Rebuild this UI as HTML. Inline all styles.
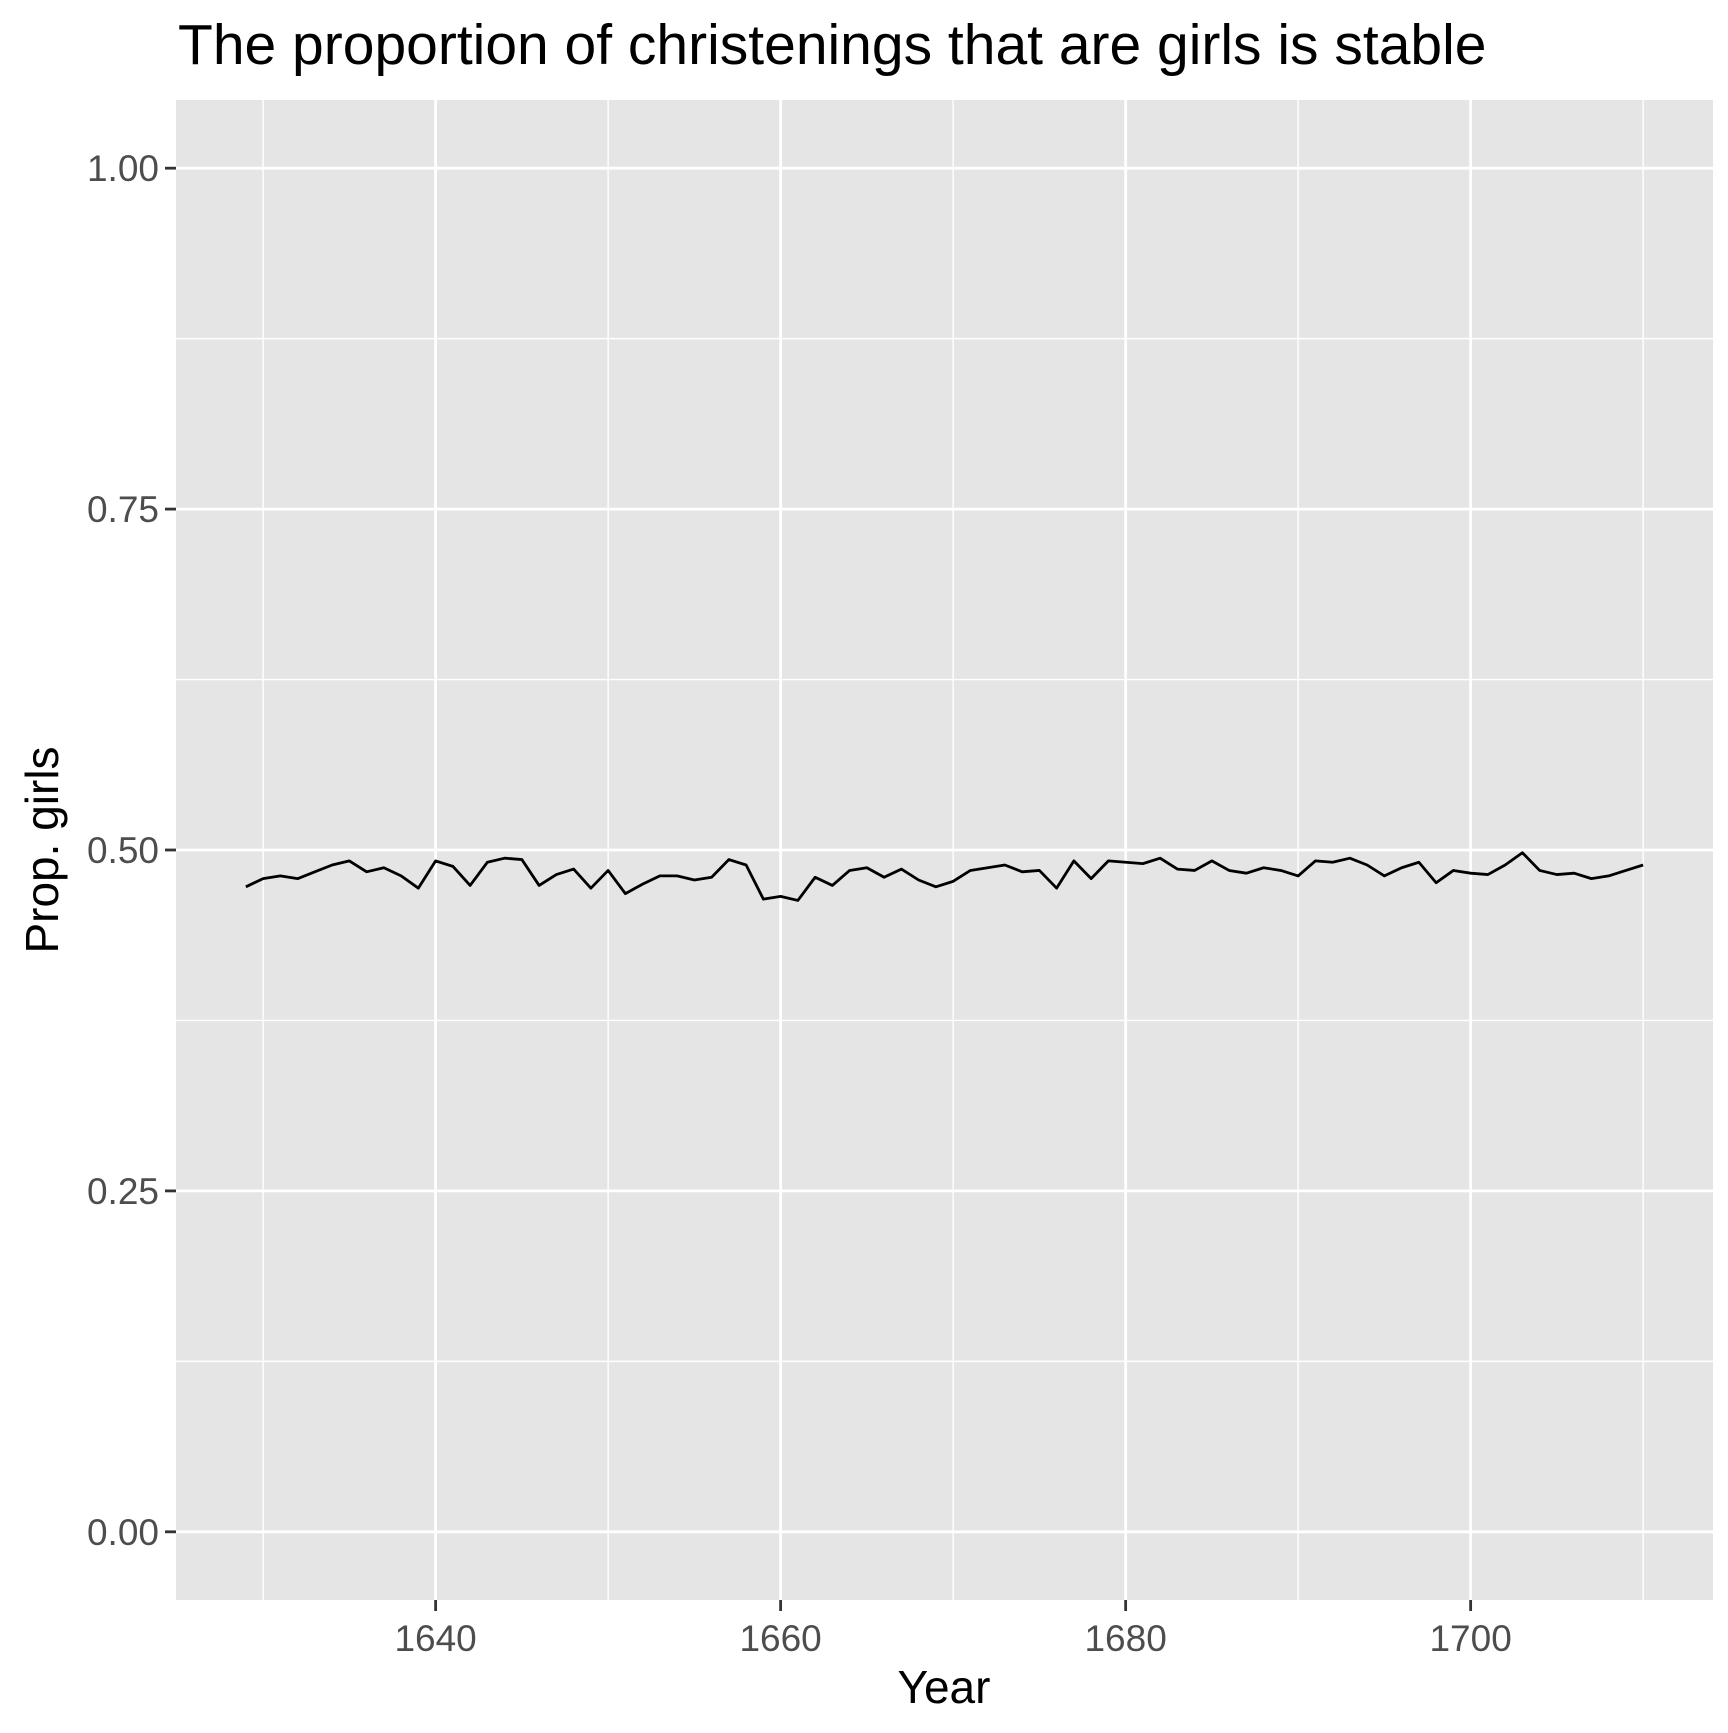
<!DOCTYPE html>
<html><head><meta charset="utf-8"><style>
html,body{margin:0;padding:0;background:#fff;}
svg text{font-family:"Liberation Sans",Arial,sans-serif;}
</style></head><body>
<svg id="chart" width="1728" height="1728" viewBox="0 0 1728 1728" xmlns="http://www.w3.org/2000/svg">
<text x="178" y="64" font-size="57" fill="#000">The proportion of christenings that are girls is stable</text>
<rect x="176" y="100" width="1537" height="1500" fill="#e5e5e5"/>
<g id="grid"></g>
<g id="axes"></g>
<path id="line" fill="none" stroke="#000" stroke-width="2.8" stroke-linejoin="round"/>
<text x="944" y="1703" font-size="46" text-anchor="middle" fill="#000">Year</text>
<text transform="translate(58,850) rotate(-90)" font-size="46" text-anchor="middle" fill="#000">Prop. girls</text>
</svg>
<script>
const years = [];
for (let y = 1629; y <= 1710; y++) years.push(y);
const propGirls = [0.473,0.479,0.481,0.479,0.484,0.489,0.492,0.484,0.487,0.481,0.472,
0.492,0.488,0.474,0.491,0.494,0.493,0.474,0.482,0.486,0.472,
0.485,0.468,0.475,0.481,0.481,0.478,0.480,0.493,0.489,0.464,
0.466,0.463,0.480,0.474,0.485,0.487,0.480,0.486,0.478,0.473,
0.477,0.485,0.487,0.489,0.484,0.485,0.472,0.492,0.479,0.492,
0.491,0.490,0.494,0.486,0.485,0.492,0.485,0.483,0.487,0.485,
0.481,0.492,0.491,0.494,0.489,0.481,0.487,0.491,0.476,0.485,
0.483,0.482,0.489,0.498,0.485,0.482,0.483,0.479,0.481,0.485,0.489];
const xTicks = [1640,1660,1680,1700];
const xMinor = [1630,1650,1670,1690,1710];
const yTicks = [0,0.25,0.5,0.75,1];
const yTickLabels = ["0.00","0.25","0.50","0.75","1.00"];
const yMinor = [0.125,0.375,0.625,0.875];

const NS = "http://www.w3.org/2000/svg";
const PL = 176, PR = 1713, PT = 100, PB = 1600;
const xMin = 1629 - 0.05*81, xMax = 1710 + 0.05*81;
const yMin = -0.05, yMax = 1.05;
const sx = v => PL + (v - xMin) / (xMax - xMin) * (PR - PL);
const sy = v => PB - (v - yMin) / (yMax - yMin) * (PB - PT);

function mk(tag, attrs, parent) {
  const e = document.createElementNS(NS, tag);
  for (const k in attrs) e.setAttribute(k, attrs[k]);
  parent.appendChild(e);
  return e;
}
const grid = document.getElementById('grid');
const axes = document.getElementById('axes');

yMinor.forEach(v => {
  const l = mk('line', {x1: PL, x2: PR, y1: sy(v), y2: sy(v), stroke: '#fff', 'stroke-width': 1.4}, grid);
  
  
});
xMinor.forEach(v => {
  const l = mk('line', {x1: sx(v), x2: sx(v), y1: PT, y2: PB, stroke: '#fff', 'stroke-width': 1.4}, grid);
  
  
});
yTicks.forEach((v, i) => {
  const l = mk('line', {x1: PL, x2: PR, y1: sy(v), y2: sy(v), stroke: '#fff', 'stroke-width': 2.8}, grid);
  
  
  const t = mk('line', {x1: PL - 11, x2: PL, y1: sy(v), y2: sy(v), stroke: '#333', 'stroke-width': 2.8}, axes);
  
  
  const tx = mk('text', {x: PL - 17, y: sy(v) + 13, 'font-size': 37, 'text-anchor': 'end', fill: '#4d4d4d'}, axes);
  tx.textContent = yTickLabels[i];
  
  
});
xTicks.forEach(v => {
  const l = mk('line', {x1: sx(v), x2: sx(v), y1: PT, y2: PB, stroke: '#fff', 'stroke-width': 2.8}, grid);
  
  
  const t = mk('line', {x1: sx(v), x2: sx(v), y1: PB, y2: PB + 11, stroke: '#333', 'stroke-width': 2.8}, axes);
  
  
  const tx = mk('text', {x: sx(v), y: PB + 51, 'font-size': 37, 'text-anchor': 'middle', fill: '#4d4d4d'}, axes);
  tx.textContent = String(v);
  
  
});
document.getElementById('line').setAttribute('d',
  years.map((y, i) => (i ? 'L' : 'M') + sx(y).toFixed(2) + ',' + sy(propGirls[i]).toFixed(2)).join(' '));
</script>
</body></html>
